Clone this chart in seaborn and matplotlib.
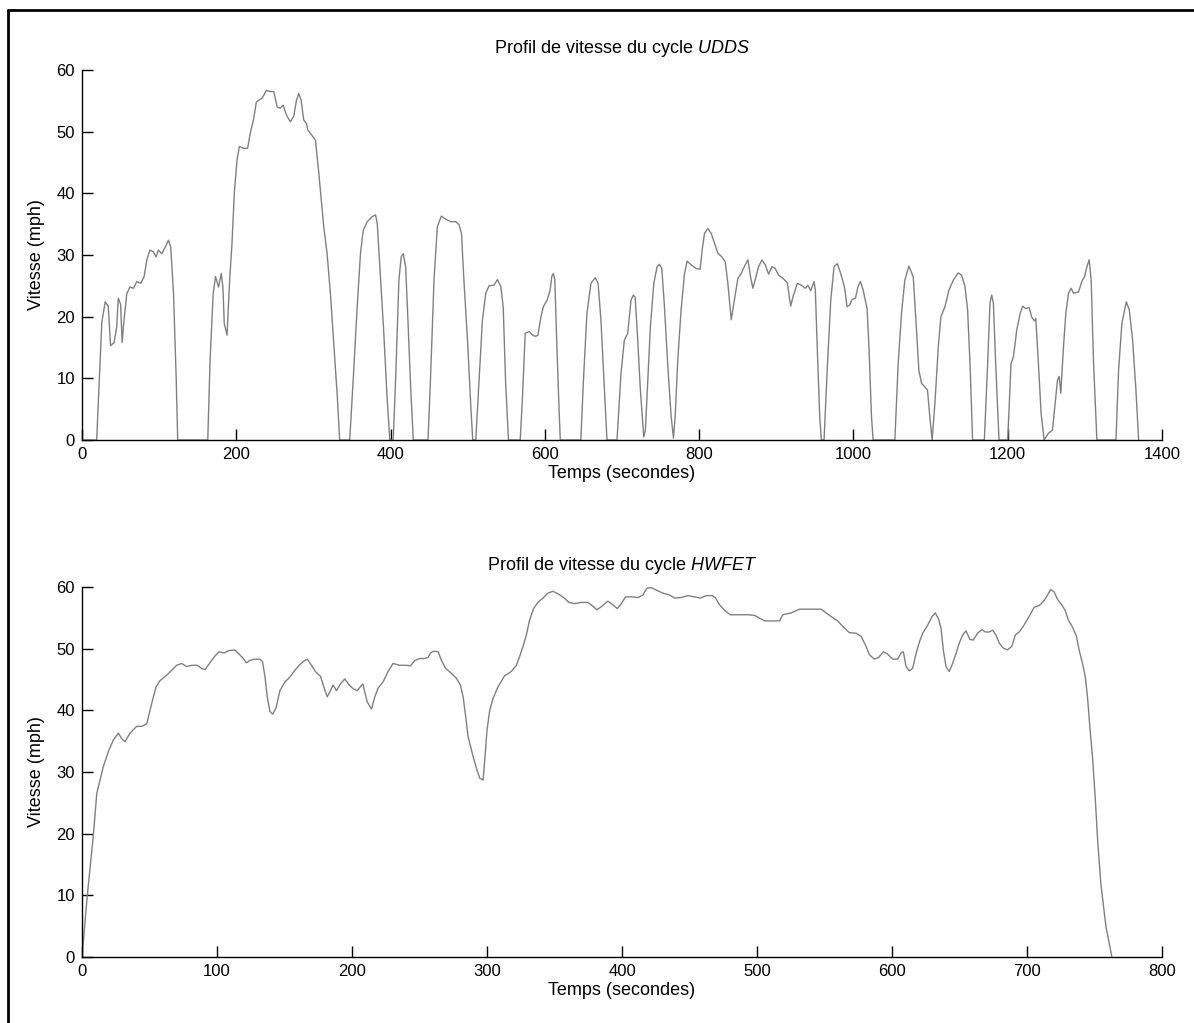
import matplotlib
matplotlib.use('Agg')
import matplotlib.pyplot as plt
from matplotlib.lines import Line2D
import pandas as pd
import seaborn as sns

# UDDS cycle (time in s, speed in mph), one hill per line
udds_time = [
    0, 19, 21.6, 25.6, 30, 34, 37, 41.6, 45, 47, 50, 52, 54, 58, 62, 66.7, 71, 76, 80.5, 84, 88, 92.6, 96, 99, 103.4, 108, 112, 115, 118.6, 122, 124,
    163, 166, 170, 173, 177, 180.5, 182.6, 184.4, 188, 191.4, 194.4, 197.4, 200.9, 204, 209.5, 214.7, 218, 222.5, 226, 229, 233.3, 239, 244, 248.5, 253, 257, 260.6, 265, 270, 274.5, 278, 281, 284, 287.4, 291, 292.6, 298, 302.6, 307, 313.4, 317.7, 322, 326.4, 330.7, 334,
    347, 351.5, 356.7, 361, 364.5, 369.7, 376, 380.5, 382.7, 387, 391, 395.4, 399,
    403.4, 406.5, 410.8, 413.8, 416.4, 419.5, 422.5, 426, 429.4,
    448.5, 452, 456.3, 460.6, 465.8, 471.5, 478, 484.5, 488.8, 491.9, 495, 499.7, 504, 506.5,
    510.4, 514.7, 519, 523.4, 527.7, 534, 538.5, 542.9, 546, 549, 552.8,
    568, 571, 574.5, 579.6, 584, 588, 591, 594.8, 598, 603, 606.8, 609, 611, 612.9, 615.6, 618.6, 620,
    646.6, 650, 654.5, 659.7, 665.3, 669, 672.7, 677, 680.5,
    693.5, 698.7, 703, 707.4, 711.7, 714.7, 717, 720.4, 723.8, 728.2, 730.3, 733.4, 736.8, 741.2, 745.5, 748.5, 751.6, 755, 759.4, 763.7,
    766.7, 768.9, 772.3, 776.6, 781, 784.4, 789.6, 796, 801.3, 803.9, 806.9, 811.2, 815.6, 819.9, 824.2, 829.4, 833.8, 837.2, 841.6, 845,
    850.2, 854.5, 859.7, 863.2, 866.6, 869.7, 872.7, 877, 881.4, 885.7, 890, 894.4, 898.7, 903, 908.7, 914.3, 918.6, 921.6, 927.3, 932.5,
    937.7, 941, 944.6, 948.9, 950.6, 953.2, 956.3, 958.4,
    961.9, 966.2, 970.6, 974.9, 979.2, 983.5, 988.7, 991.7, 995.2, 998.2, 1002.6, 1006, 1009, 1012.6, 1017.7, 1020.3, 1023.4, 1025.5,
    1053.7, 1058, 1062.3, 1066.6, 1071.9, 1077.5, 1081.8, 1084.8, 1088.3, 1092.6, 1096, 1099, 1102, 1105.6, 1110, 1113.4, 1118.6, 1123.8, 1129.4, 1135.9, 1140.3, 1144.6, 1148, 1151.1, 1154.5,
    1169.7, 1174, 1177, 1179.2, 1181.4, 1184.4, 1188.7,
    1200, 1204.3, 1207.4, 1211.7, 1216, 1219.5, 1223.4, 1227.7, 1231.2, 1234.6, 1236.4, 1239.8, 1243.3, 1247.2,
    1252.8, 1258, 1261.5, 1264.5, 1266.7, 1268.8, 1272.3, 1275.3, 1278.8, 1282.2, 1285.3, 1291.8, 1296.1, 1299.6, 1302.6, 1305.6, 1308.2, 1311.3, 1315.6,
    1340.3, 1343.7, 1348, 1353.7, 1357.6, 1361.9, 1366.2, 1369.7,
]
udds_speed = [
    0, 0, 7.6, 19, 22.4, 21.7, 15.3, 15.8, 18.4, 23, 22, 15.8, 18.9, 23.7, 24.8, 24.6, 25.7, 25.4, 26.5, 29.2, 30.8, 30.5, 29.7, 30.8, 30.2, 31.3, 32.4, 31.3, 23.7, 10.3, 0,
    0, 13, 23.7, 26.5, 24.8, 27, 24.8, 18.9, 17, 26, 31.9, 40, 45.4, 47.6, 47.3, 47.3, 49.7, 52.1, 54.8, 55.1, 55.4, 56.7, 56.5, 56.5, 54, 53.8, 54.3, 52.7, 51.6, 52.5, 55.1, 56.2, 55.1, 51.9, 51.3, 50.3, 49.4, 48.6, 43.2, 34.5, 30.2, 23.7, 15.6, 7.5, 0,
    0, 9.7, 21.6, 30.3, 34, 35.4, 36.2, 36.5, 35.1, 26, 17.8, 7, 0,
    0, 9.7, 26, 29.7, 30.2, 28.1, 19.4, 8.6, 0,
    0, 10.8, 26, 34.6, 36.3, 35.8, 35.4, 35.4, 34.9, 33.5, 26, 16.2, 5.4, 0,
    0, 9.7, 19.4, 23.8, 25, 25.1, 26, 24.9, 21.6, 9.7, 0,
    0, 7, 17.3, 17.6, 17, 16.8, 17, 19.9, 21.6, 22.7, 24.3, 26.5, 27, 26, 15.1, 4.3, 0,
    0, 9.7, 20.5, 25.4, 26.3, 25.4, 19.4, 8.6, 0,
    0, 10.8, 16.2, 17.3, 22.7, 23.5, 23.2, 16.2, 8.1, 0.5, 1.6, 9.7, 18.4, 25.4, 28.1, 28.5, 27.8, 21.6, 11.9, 3.8,
    0.3, 3.8, 13, 21.1, 27, 29, 28.4, 27.8, 27.7, 30.8, 33.5, 34.3, 33.5, 31.9, 30.3, 29.7, 28.9, 25.4, 19.5, 22.2,
    26.2, 27, 28.4, 29.2, 26.5, 24.6, 26, 28.1, 29.2, 28.4, 26.9, 28.1, 27.8, 26.7, 26.2, 25.5, 21.7, 23.2, 25.4, 25.1,
    24.6, 25.1, 24.2, 25.7, 24.3, 14.6, 3.8, 0,
    0, 11.9, 22.7, 28.1, 28.6, 27, 24.6, 21.6, 21.9, 22.8, 23, 24.9, 25.7, 24.3, 21.3, 14.6, 3.8, 0,
    0, 12.4, 20.5, 25.9, 28.2, 26.5, 17.8, 11.3, 9.2, 8.6, 8.1, 3.8, 0, 5.9, 15.1, 20, 21.6, 24.3, 25.9, 27.1, 26.7, 24.9, 21.1, 12.4, 0,
    0, 12.4, 22.2, 23.5, 22.2, 12.4, 0,
    0, 12.4, 13.5, 17.8, 20.5, 21.7, 21.3, 21.5, 19.9, 19.3, 19.7, 12.4, 4.3, 0,
    1.1, 1.6, 5.9, 9.7, 10.3, 7.6, 15.1, 20.5, 23.8, 24.6, 23.8, 24, 25.7, 26.5, 28.1, 29.2, 25.9, 12.4, 0,
    0, 11.3, 18.9, 22.4, 21.1, 16.2, 8.1, 0,
]

# HWFET cycle
hwfet_time = [
    0, 3.9, 8.5, 10.9, 15.8, 19.5, 23.2, 26.9, 29.4, 31.8,
    35.5, 40.5, 44.2, 47.9, 51.6, 54.8, 57.7, 62.7, 66.4, 70.1,
    73.8, 77.5, 81.2, 85.4, 88.6, 91, 92.8, 96, 98.4, 101.6,
    105.1, 109, 113.2, 116.9, 119.4, 121.8, 124.4, 128, 131.8, 133.7,
    135.5, 137.2, 139.2, 141.2, 143.6, 146.6, 150.3, 154, 157.7, 160.9,
    163.8, 166.8, 170, 173.2, 176.7, 179.1, 181.6, 183.6, 186, 188.5,
    191.5, 194.7, 197.9, 200.9, 203.8, 208, 211.2, 214.4, 216.9, 219.3,
    223, 226.7, 230.4, 235.4, 240.3, 243.3, 246.5, 250.2, 253.9, 256.4,
    258.1, 260.6, 263.8, 266.2, 269.4, 273.6, 277.3, 280.3, 282.3, 284.2,
    286, 289.7, 292.6, 294.6, 297.1, 298.5, 300, 302, 304.4, 308.1,
    313, 318, 321.7, 324.1, 326.6, 329.1, 331.5, 334.5, 337.7, 341.4,
    345.1, 348.8, 352.6, 356.7, 360.7, 364.9, 369.8, 374.7, 378.5, 381.4,
    384.6, 389.5, 393.3, 396.5, 399.5, 402.6, 406.9, 411.8, 415.5, 418.4,
    421.7, 425.4, 430.3, 435.3, 439, 443.9, 448.8, 453.8, 458, 462.4,
    466.9, 469.3, 472.3, 476, 480.2, 487.1, 493.3, 498.2, 501.4, 505.6,
    511.8, 516.7, 519.1, 525.3, 531.4, 538.8, 547.5, 551.2, 554.9, 559.8,
    563.5, 568.4, 573.4, 577.1, 580.3, 583.3, 587, 590.2, 593.6, 596.8,
    600.5, 604.2, 606.7, 608.4, 610.4, 612.9, 615.3, 617.8, 620.3, 622.7,
    626.4, 629.6, 632.1, 634.5, 636.3, 638, 640, 642.4, 644.9, 647.4,
    649.8, 652.3, 654.8, 657.7, 660.2, 663.4, 666.6, 669.1, 672.1, 674.6,
    677, 679.5, 682.4, 685.6, 688.8, 691.3, 694.2, 697.2, 700.4, 702.8,
    705.3, 709, 712, 714.4, 717.6, 720.1, 722.6, 725.8, 728.3, 730.7,
    733.7, 736.6, 738.6, 741.1, 743.1, 744.8, 746.5, 748.5, 750.5, 752.3,
    754.7, 758.5, 762.9,
]
hwfet_speed = [
    0, 10, 20, 26.5, 30.9, 33.3, 35.2, 36.3, 35.4, 34.9,
    36.3, 37.4, 37.4, 37.8, 41.1, 43.8, 44.8, 45.7, 46.5, 47.3,
    47.6, 47.1, 47.3, 47.3, 46.8, 46.6, 47.1, 48.1, 48.8, 49.5,
    49.3, 49.7, 49.8, 49, 48.4, 47.7, 48.1, 48.3, 48.3, 47.9,
    45.5, 42.2, 39.8, 39.4, 40.3, 43.2, 44.6, 45.4, 46.5, 47.3,
    47.9, 48.3, 47.3, 46.2, 45.5, 43.8, 42.2, 43, 44.1, 43.2,
    44.3, 45.1, 44.1, 43.5, 43.2, 44.3, 41.4, 40.2, 42.2, 43.6,
    44.6, 46.3, 47.6, 47.3, 47.3, 47.2, 48.1, 48.4, 48.4, 48.6,
    49.3, 49.6, 49.5, 48.1, 46.8, 46, 45.2, 44.1, 42.2, 39,
    35.7, 32.5, 30.3, 29, 28.7, 32.5, 36.8, 40, 41.9, 43.8,
    45.6, 46.3, 47.3, 48.7, 50.3, 52.2, 54.6, 56.5, 57.5, 58.2,
    59, 59.3, 58.9, 58.3, 57.5, 57.3, 57.5, 57.5, 56.9, 56.3,
    56.8, 57.7, 57.1, 56.5, 57.3, 58.4, 58.4, 58.3, 58.7, 59.8,
    59.9, 59.5, 59, 58.7, 58.2, 58.3, 58.6, 58.4, 58.2, 58.6,
    58.6, 58.2, 57.1, 56.2, 55.5, 55.5, 55.5, 55.4, 55, 54.5,
    54.5, 54.5, 55.5, 55.8, 56.4, 56.4, 56.4, 55.8, 55.2, 54.5,
    53.6, 52.6, 52.5, 52, 50.6, 49, 48.3, 48.6, 49.5, 49.1,
    48.3, 48.3, 49.3, 49.5, 47.1, 46.4, 46.8, 49.2, 51.1, 52.5,
    53.8, 55.2, 55.8, 54.8, 53.3, 49.8, 47.1, 46.3, 47.6, 49.2,
    50.9, 52.2, 52.9, 51.5, 51.4, 52.5, 53.1, 52.7, 52.7, 53,
    52.2, 50.9, 50.1, 49.8, 50.4, 52.2, 52.7, 53.6, 54.8, 55.7,
    56.7, 57, 57.6, 58.4, 59.6, 59.2, 58, 57.1, 56.2, 54.6,
    53.5, 52, 49.8, 47.6, 45.5, 42.2, 37.4, 32.5, 26, 19,
    11.9, 4.9, 0,
]

udds_xticks = [0, 200, 400, 600, 800, 1000, 1200, 1400]
hwfet_xticks = [0, 100, 200, 300, 400, 500, 600, 700, 800]
speed_ticks = [0, 10, 20, 30, 40, 50, 60]

sns.set_theme(style='white')
plt.rcParams['font.family'] = ['Liberation Sans', 'DejaVu Sans']
plt.rcParams['mathtext.fontset'] = 'custom'
plt.rcParams['mathtext.rm'] = 'Liberation Sans'
plt.rcParams['mathtext.it'] = 'Liberation Sans:italic'

fig = plt.figure(figsize=(11.94, 10.23), dpi=100)
fig.patch.set_facecolor('white')
ax1 = fig.add_axes([0.0687, 0.5699, 0.9045, 0.3617])
ax2 = fig.add_axes([0.0687, 0.0645, 0.9045, 0.3617])

panels = [
    (ax1, udds_time, udds_speed, udds_xticks, 'UDDS'),
    (ax2, hwfet_time, hwfet_speed, hwfet_xticks, 'HWFET'),
]

for ax, t, v, xt, name in panels:
    df = pd.DataFrame({'t': t, 'v': v})
    sns.lineplot(data=df, x='t', y='v', ax=ax, color='#808080', linewidth=1.0,
                 estimator=None, sort=False)
    ax.set_xlim(xt[0], xt[-1])
    ax.set_ylim(0, 60)
    ax.set_xticks(xt)
    ax.set_yticks(speed_ticks)
    ax.set_facecolor('white')
    for s in ['top', 'right']:
        ax.spines[s].set_visible(False)
    for s in ['left', 'bottom']:
        ax.spines[s].set_color('black')
        ax.spines[s].set_linewidth(1.0)
    ax.tick_params(direction='in', length=8, width=1, color='black',
                   labelsize=12, pad=5, left=True, bottom=True, labelcolor='black')
    ax.set_xlabel('Temps (secondes)', fontsize=13, labelpad=2, color='black')
    ax.set_ylabel('Vitesse (mph)', fontsize=13, labelpad=8, color='black')
    ax.set_title('Profil de vitesse du cycle $\\mathit{' + name + '}$', fontsize=13, pad=12, color='black')

# figure frame (left and top edges visible)
x0 = 7.5 / 1194
y0 = 1 - 9.5 / 1023
fig.add_artist(Line2D([x0, x0], [0, y0], transform=fig.transFigure, color='black', lw=2))
fig.add_artist(Line2D([x0, 1], [y0, y0], transform=fig.transFigure, color='black', lw=2))

fig.savefig('out.png', dpi=100, facecolor='white')
